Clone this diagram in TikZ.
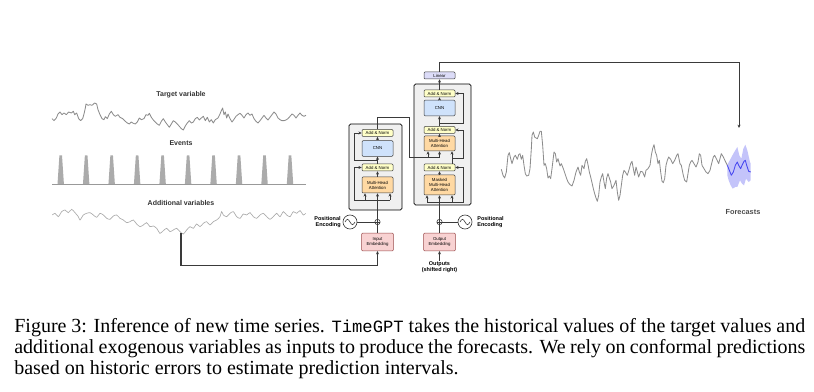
\documentclass[tikz,border=0pt]{standalone}
\usepackage{fontspec}
\setmainfont{Liberation Serif}
\setsansfont{Liberation Sans}
\setmonofont[Scale=0.86]{Liberation Mono}
\usetikzlibrary{arrows.meta}

\definecolor{anfill}{HTML}{FFFFC8}
\definecolor{cnnfill}{HTML}{CFE2FB}
\definecolor{attfill}{HTML}{FFD9A3}
\definecolor{linfill}{HTML}{DCDCF8}
\definecolor{embfill}{HTML}{F8D2D2}
\definecolor{embdraw}{HTML}{9A4A4A}
\definecolor{stackfill}{HTML}{F0F0F0}
\definecolor{wirecol}{HTML}{3A3A3A}
\definecolor{fcblue}{HTML}{4646F0}
\definecolor{fcband}{HTML}{C4C4FA}

\begin{document}
\begin{tikzpicture}[
	x=0.6pt, y=-0.6pt,
	>={Stealth[length=2pt,width=1.8pt]},
	block/.style={
		rectangle,
		draw=black!75,
		line width=0.3pt,
		rounded corners=0.6pt,
		align=center,
		inner sep=0pt,
		minimum width=18.6pt,
		font=\sffamily\fontsize{2.6}{3}\selectfont
	},
	addnorm/.style={block, fill=anfill, minimum height=4.2pt},
	ffn/.style={block, fill=cnnfill, minimum height=9.4pt},
	attn/.style={block, fill=attfill},
	linearbox/.style={block, fill=linfill, minimum height=4.2pt},
	embed/.style={block, fill=embfill, draw=embdraw, minimum height=10.6pt, minimum width=19pt},
	stack/.style={
		rectangle,
		draw=black,
		line width=0.45pt,
		rounded corners=1pt,
		fill=stackfill
	},
	addsym/.style={
		circle,
		draw=wirecol,
		line width=0.35pt,
		minimum size=3.2pt,
		inner sep=0pt,
		path picture={\draw[line width=0.3pt]
			(path picture bounding box.north) -- (path picture bounding box.south)
			(path picture bounding box.west) -- (path picture bounding box.east);}
	},
	sinewave/.style={
		circle,
		draw=wirecol,
		line width=0.4pt,
		minimum size=8.4pt,
		inner sep=0pt,
		path picture={\draw[line width=0.35pt]
			([xshift=-3pt]path picture bounding box.center)
			sin ++(1.5pt,1.6pt) cos ++(1.5pt,-1.6pt) sin ++(1.5pt,-1.6pt) cos ++(1.5pt,1.6pt);}
	},
	wire/.style={draw=wirecol, line width=0.4pt},
	link/.style={draw=wirecol, line width=0.6pt},
	heading/.style={font=\sffamily\bfseries\fontsize{4.2}{5}\selectfont, text=black!80},
	sidenote/.style={font=\sffamily\bfseries\fontsize{3.3}{4}\selectfont, inner sep=0pt},
]
\useasboundingbox (0,0) rectangle (814,392);

% Input series
\node[heading] (tgtlbl) at (181,95) {Target variable};
\begin{scope}[shift={(48,98)}, x=0.2pt, y=-0.2pt]
\draw[black!45, line width=0.5pt, line join=round] plot coordinates {
(12,62) (18,68) (25,60) (30,48) (36,42) (42,50) (48,45) (55,50) (62,42) (70,45) (76,40) (80,50)
(86,45) (92,62) (98,68) (104,62) (108,48) (112,30) (114,18) (120,22) (126,20) (132,22) (140,15)
(146,18) (150,35) (156,50) (162,62) (168,65) (172,56) (178,62) (184,48) (190,40) (196,50) (202,55)
(210,50) (216,58) (224,62) (232,70) (238,75) (244,78) (250,72) (256,76) (262,78) (268,72) (274,60)
(280,65) (288,62) (294,50) (300,52) (304,46) (310,58) (316,66) (322,72) (328,78) (334,82) (340,70)
(346,62) (352,72) (358,80) (364,88) (370,78) (376,68) (382,72) (388,78) (394,85) (400,92) (406,96)
(412,84) (418,75) (424,68) (430,75) (436,72) (442,62) (448,58) (454,66) (460,60) (466,55) (472,68)
(478,58) (484,72) (490,65) (496,75) (502,65) (510,60) (516,48) (520,38) (524,30) (528,50) (532,42)
(536,60) (540,48) (546,62) (552,72) (558,64) (564,55) (570,50) (576,46) (582,52) (588,60) (594,50)
(600,45) (606,52) (612,48) (618,62) (624,70) (630,75) (636,68) (642,60) (648,52) (654,60) (660,66)
(666,58) (672,50) (678,42) (684,48) (690,60) (696,65) (702,68) (708,68) (714,66) (720,62) (726,55)
(732,48) (738,52) (744,60) (750,52) (756,45) (762,52) (768,55) (774,52)};
\end{scope}

\node[heading] (evtlbl) at (181,143) {Events};
\foreach \i in {0,...,9}
	\fill[black!33] ({57.5+25.48*\i},184) -- ({59.4+25.48*\i},155.5)
		-- ({62+25.48*\i},155.5) -- ({63.9+25.48*\i},184) -- cycle;
\draw[black!40, line width=0.4pt] (52,184) -- (306,184);

\node[heading] (addlbl) at (181,203) {Additional variables};
\begin{scope}[shift={(40,80)}, x=0.2pt, y=-0.2pt]
\draw[black!33, line width=0.4pt] plot[smooth, tension=0.4] coordinates {
(37,405) (45,400) (55,410) (65,395) (75,390) (85,398) (95,388) (105,398) (115,410) (120,420)
(130,405) (140,400) (150,398) (160,405) (170,412) (180,400) (190,405) (200,415) (210,418)
(220,408) (230,405) (240,415) (250,420) (260,428) (270,425) (280,420) (290,432) (300,440)
(310,435) (320,428) (330,440) (340,438) (350,445) (360,460) (370,452) (380,445) (390,455)
(400,450) (410,445) (420,455) (430,462) (440,450) (450,440) (460,445) (470,432) (480,440)
(490,430) (500,425) (510,435) (520,425) (530,420) (540,410) (545,395) (550,405) (560,410)
(570,400) (580,395) (590,410) (600,415) (610,402) (620,405) (630,398) (640,410) (650,415)
(660,405) (670,400) (680,410) (690,418) (700,410) (710,400) (720,410) (730,395) (740,405)
(750,410) (760,395) (770,400) (780,392) (790,405) (797,400)};
\end{scope}

% Encoder
\node[stack, minimum width=31.8pt, minimum height=51.6pt] (encoder) at (375.5,167) {};
\node[attn, minimum height=9.6pt] (encatt) at (377.5,185) {Multi-Head\\Attention};
\node[addnorm] (encan1) at (377.5,167.5) {Add \& Norm};
\node[ffn] (encffn) at (377.5,148.5) {CNN};
\node[addnorm] (encan2) at (377.5,133) {Add \& Norm};

\coordinate (encsplit) at (377.5,200);
\coordinate (encresA) at (354,200);
\coordinate (encmid) at (377.5,160);
\coordinate (encresB) at (354,160);
\draw[wire] (encsplit) -- ([xshift=7.5pt]encsplit);
\draw[wire,->] (encsplit) -- (encresA) |- (encan1.west);
\draw[wire,->] ([xshift=-7.5pt]encsplit) -- ([xshift=-7.5pt]encatt.south);
\draw[wire,->] (encsplit) -- (encatt);
\draw[wire,->] ([xshift=7.5pt]encsplit) -- ([xshift=7.5pt]encatt.south);
\draw[wire,->] (encatt) -- (encan1);
\draw[wire,->] (encan1) -- (encffn);
\draw[wire,->] (encmid) -- (encresB) |- (encan2.west);
\draw[wire,->] (encffn) -- (encan2);

\node[addsym] (encplus) at (377.5,222) {};
\node[sinewave] (encpos) at (350,222) {};
\node[sidenote, anchor=east, align=right] (encposlbl) at (341,222) {Positional\\Encoding};
\node[embed] (inembed) at (377.5,242) {Input\\Embedding};
\draw[wire] (encpos) -- (encplus);
\draw[wire] (inembed) -- (encplus);
\draw[wire] (encplus) -- (encsplit);

\coordinate (bartop) at (181,233);
\coordinate (barbot) at (181,266);
\draw[draw=wirecol, line width=1.3pt] (bartop) -- (barbot);
\draw[link,->] (barbot) -| (inembed);

% Decoder
\node[stack, minimum width=34.2pt, minimum height=72.6pt] (decoder) at (442.5,144.5) {};
\node[attn, minimum height=12pt] (decmask) at (439.5,185) {Masked\\Multi-Head\\Attention};
\node[addnorm] (decan1) at (439.5,167.5) {Add \& Norm};
\node[attn, minimum height=9pt] (decatt) at (439.5,143.5) {Multi-Head\\Attention};
\node[addnorm] (decan2) at (439.5,130) {Add \& Norm};
\node[ffn] (decffn) at (439.5,108) {CNN};
\node[addnorm] (decan3) at (439.5,93.5) {Add \& Norm};
\node[linearbox] (linear) at (439.5,75.5) {Linear};

\coordinate (decsplit) at (439.5,202);
\coordinate (decresA) at (463,202);
\coordinate (decq) at (452,158);
\coordinate (decresB) at (463,158);
\coordinate (decmid) at (439.5,123);
\coordinate (decresC) at (463,123);
\draw[wire] ([xshift=-7.5pt]decsplit) -- (decsplit);
\draw[wire,->] (decsplit) -- (decresA) |- (decan1.east);
\draw[wire,->] ([xshift=-7.5pt]decsplit) -- ([xshift=-7.5pt]decmask.south);
\draw[wire,->] (decsplit) -- (decmask);
\draw[wire,->] ([xshift=7.5pt]decsplit) -- ([xshift=7.5pt]decmask.south);
\draw[wire,->] (decmask) -- (decan1);
\draw[wire,->] ([xshift=7.5pt]decan1.north) -- ([xshift=7.5pt]decatt.south);
\draw[wire,->] (decq) -- (decresB) |- (decan2.east);
\draw[wire,->] (decatt) -- (decan2);
\draw[wire,->] (decan2) -- (decffn);
\draw[wire,->] (decmid) -- (decresC) |- (decan3.east);
\draw[wire,->] (decffn) -- (decan3);
\draw[wire,->] (decan3) -- (linear);

\node[addsym] (decplus) at (439.5,222) {};
\node[sinewave] (decpos) at (465,222) {};
\node[sidenote, anchor=west, align=left] (decposlbl) at (477,222) {Positional\\Encoding};
\node[embed] (outembed) at (439.5,242) {Output\\Embedding};
\node[sidenote, align=center] (outputs) at (439.5,267) {Outputs\\(shifted right)};
\draw[wire] (decpos) -- (decplus);
\draw[wire] (outembed) -- (decplus);
\draw[wire] (decplus) -- (decsplit);
\draw[wire,->] (outputs) -- (outembed);

% Encoder to decoder
\coordinate (encturn) at (409,118);
\coordinate (crossK) at (428,158);
\coordinate (crossV) at (439.5,158);
\draw[link] (encan2.north) |- (encturn) |- (crossV);
\draw[wire,->] (crossK) -- (crossK |- decatt.south);
\draw[wire,->] (crossV) -- (decatt);

% Forecasts
\coordinate (fcturn) at (739,63);
\coordinate (fctip) at (739,128);
\draw[link,->] (linear) |- (fcturn) -- (fctip);

\begin{scope}[shift={(498,122)}, x=0.2pt, y=-0.2pt]
\fill[fcband] (688,128) -- (698,110) -- (706,95) -- (712,85) -- (718,75) -- (724,100) -- (730,110)
	-- (736,80) -- (742,68) -- (748,85) -- (756,120) -- (758,125) -- (758,175) -- (752,180)
	-- (744,170) -- (738,190) -- (732,185) -- (726,175) -- (718,195) -- (712,195) -- (704,200)
	-- (698,190) -- (692,175) -- (688,160) -- cycle;
\draw[black!45, line width=0.5pt, line join=round] plot coordinates {
(10,142) (15,160) (20,168) (25,150) (30,100) (34,92) (38,110) (42,125) (48,105) (52,100) (58,112)
(62,98) (66,95) (70,112) (74,100) (78,130) (82,155) (86,162) (92,160) (96,140) (100,80) (102,40)
(106,30) (110,45) (114,48) (118,50) (122,40) (126,28) (130,28) (134,70) (138,130) (142,125)
(146,140) (150,168) (154,162) (158,170) (162,140) (168,90) (172,95) (176,120) (180,110) (186,132)
(190,125) (196,140) (202,158) (206,170) (210,180) (216,188) (222,192) (228,175) (234,150)
(240,135) (244,150) (248,160) (252,130) (258,140) (262,118) (266,110) (270,128) (274,150)
(278,165) (282,182) (286,200) (290,215) (294,228) (298,238) (302,220) (306,180) (310,165)
(314,155) (318,180) (322,200) (326,168) (330,155) (334,168) (338,180) (342,200) (348,190)
(354,175) (358,210) (362,235) (366,220) (370,190) (374,160) (378,145) (382,150) (388,160)
(394,140) (398,125) (402,118) (406,140) (410,160) (414,135) (418,150) (422,165) (428,148)
(434,150) (440,165) (444,145) (450,140) (456,130) (460,100) (464,80) (468,68) (472,90) (476,100)
(480,125) (484,115) (488,150) (492,178) (496,182) (500,170) (504,130) (508,115) (512,105)
(518,112) (524,125) (530,115) (536,100) (540,95) (546,125) (550,130) (556,160) (560,175)
(566,180) (570,155) (574,130) (578,120) (582,115) (588,125) (594,135) (600,120) (604,95)
(608,100) (612,130) (618,140) (624,150) (630,155) (636,145) (642,120) (646,105) (650,100)
(656,112) (662,125) (666,110) (670,95) (676,105) (682,118) (688,130)};
\draw[fcblue, line width=0.5pt, line join=round] plot coordinates {
(688,130) (694,145) (700,160) (706,150) (712,130) (718,120) (722,130) (728,140) (732,130)
(738,118) (742,115) (746,130) (752,148) (758,150)};
\end{scope}
\node[font=\sffamily\bfseries\fontsize{4.4}{5}\selectfont, text=black!70] (fclbl) at (743,212) {Forecasts};

% Caption
\node[anchor=base west, text width=474.6pt, align=justify, inner sep=0pt,
	font=\fontsize{12}{12.4}\selectfont] (caption) at (14,333)
	{Figure 3: Inference of new time series. \texttt{TimeGPT} takes the historical values of the target values and\linebreak
	additional exogenous variables as inputs to produce the forecasts. We rely on conformal predictions\linebreak
	based on historic errors to estimate prediction intervals.};

\end{tikzpicture}
\end{document}
